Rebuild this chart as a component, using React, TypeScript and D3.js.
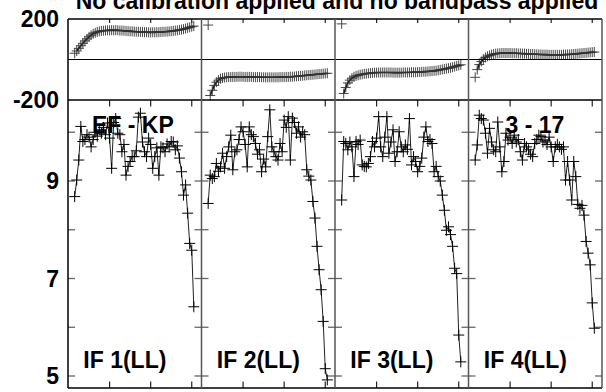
import React from 'react';
import * as d3 from 'd3';

const TITLE = 'No calibration applied and no bandpass applied';
const CHANNELS = [3,4,5,6,7,8,9,10,11,12,13,14,15,16,17,18,19,20,21,22,23,24,25,26,27,28,29,30,31,32,33,34,35,36,37,38,39,40,41,42,43,44,45,46,47,48,49,50,51,52,53,54,55,56,57,58,59,60,61];
const IF_LABELS = ['IF 1(LL)', 'IF 2(LL)', 'IF 3(LL)', 'IF 4(LL)'];
const BASELINE_LABELS = ['EF - KP', '', '', '3 - 17'];
const PHASE_TICK_LABELS = [200, -200];
const AMP_TICKS = [10, 9, 8, 7, 6, 5];
const AMP_TICK_LABELS = [9, 7, 5];
const CHAN_TICKS = [20, 40, 60];

const PHASE_1 = [31,42,55,68,80,92,102,112,120,127,132,136,139,141,142,143,144,144,145,144,145,144,143,143,142,141,140,139,139,138,137,137,136,136,135,135,134,134,135,134,135,135,136,137,137,138,139,140,141,143,144,146,148,150,153,156,159,162,165];
const PHASE_2 = [170,-178,-152,-128,-112,-102,-95,-91,-89,-88,-87,-87,-86,-86,-86,-85,-85,-86,-86,-86,-86,-86,-87,-87,-87,-87,-88,-88,-88,-88,-88,-88,-88,-88,-88,-87,-87,-87,-86,-86,-85,-85,-84,-83,-82,-81,-80,-79,-78,-77,-76,-75,-74,-73,-72,-71,-70,-69,-68];
const PHASE_3 = [176,-168,-138,-116,-102,-92,-86,-81,-78,-75,-73,-71,-70,-68,-67,-66,-65,-65,-64,-64,-64,-64,-64,-64,-64,-65,-65,-65,-65,-65,-64,-64,-64,-64,-63,-63,-63,-62,-62,-61,-60,-60,-59,-58,-57,-56,-55,-53,-51,-49,-47,-45,-43,-41,-38,-35,-32,-29,-26];
const PHASE_4 = [-88,-50,-25,-10,2,10,16,20,24,27,29,30,31,32,32,32,32,32,31,31,31,30,30,29,29,28,28,27,27,26,26,25,25,24,24,24,23,23,23,23,23,23,23,24,24,25,25,26,27,28,29,30,31,32,33,34,35,36,37];

const AMP_1 = [8.68,9.02,9.43,10.12,9.81,9.85,9.95,9.9,9.7,9.85,10.0,9.92,10.05,9.98,10.1,9.95,10.19,9.88,9.26,10.2,10.28,9.98,9.95,9.6,9.75,9.12,9.3,9.4,9.5,9.5,9.62,10.31,10.39,9.8,9.6,9.5,9.88,9.75,9.26,9.5,9.68,9.12,9.7,9.68,9.6,9.76,9.7,9.81,9.8,9.64,9.72,9.47,9.19,8.71,8.92,8.34,7.72,7.58,6.42];
const AMP_2 = [8.54,9.12,9.05,9.09,9.36,9.2,9.29,9.57,9.26,9.5,9.7,9.94,9.23,9.6,9.64,9.85,10.11,10.01,9.75,9.29,10.11,9.95,9.91,9.77,9.55,9.64,9.19,9.45,9.29,9.91,10.46,9.7,9.6,9.5,9.43,9.77,9.6,10.25,10.1,10.32,9.43,10.29,10.2,9.98,10.11,9.9,10.01,9.95,9.23,9.1,9.02,8.58,8.24,7.66,7.18,6.77,6.12,5.15,4.92];
const AMP_3 = [8.61,9.81,9.77,9.64,9.8,9.7,9.09,9.81,9.75,9.84,9.33,9.3,9.29,9.36,9.5,9.81,9.7,9.88,10.32,9.7,9.5,9.9,10.32,9.57,9.8,10.05,9.4,9.6,10.01,9.7,9.6,9.74,9.65,10.28,9.33,9.5,9.4,9.19,9.3,9.47,9.9,10.11,9.81,9.85,9.77,9.19,9.3,9.09,9.0,8.71,8.4,7.99,8.06,7.9,7.66,7.21,7.1,5.84,5.29];
const AMP_4 = [9.43,9.74,10.35,10.28,10.25,9.98,9.57,10.08,9.8,9.64,9.6,10.21,9.7,9.19,9.4,9.98,9.84,9.9,9.77,9.94,9.8,9.85,9.6,9.43,9.77,9.7,9.64,9.55,9.5,9.77,9.85,9.94,9.91,9.8,9.84,9.75,9.9,9.7,9.4,9.7,9.75,9.7,9.65,9.7,9.02,9.4,9.02,8.61,9.4,9.09,8.52,8.44,8.5,8.3,7.76,7.52,7.28,6.5,5.98];

const PHASES = [PHASE_1, PHASE_2, PHASE_3, PHASE_4];
const AMPS = [AMP_1, AMP_2, AMP_3, AMP_4];

const W = 606, H = 392;
const LEFT = 68, PW = 133.5;
const PH_TOP = 19, PH_BOT = 100, AMP_BOT = 388;
const FONT = 'Liberation Sans, Arial, Helvetica, sans-serif';
const FS = 23;

export default function App() {
  const yPh = d3.scaleLinear().domain([-200, 200]).range([PH_BOT, PH_TOP]);
  const yAmp = d3.scaleLinear().domain([5, 9]).range([376, 181]);
  const panels = d3.range(4).map(i => {
    const x0 = LEFT + i * PW;
    const x = d3.scaleLinear().domain([-0.25, 64.75]).range([x0, x0 + PW]);
    return { x0, x };
  });
  const right = LEFT + 4 * PW;
  const crossPath = (pts: [number, number][], r: number) =>
    pts.map(([px, py]) => `M${px - r},${py}H${px + r}M${px},${py - r}V${py + r}`).join('');

  return (
    <svg width={W} height={H} style={{ position: 'absolute', left: 0, top: 0, background: '#fff' }}
      fontFamily={FONT} fontWeight="bold" fontSize={FS}>
      <rect x={0} y={0} width={W} height={H} fill="#fff" />
      <text x={(LEFT + right) / 2 + 2} y={9} textAnchor="middle">{TITLE}</text>
      {PHASE_TICK_LABELS.map(v => (
        <text key={'p' + v} x={59} y={yPh(v) + 8.3} textAnchor="end">{v}</text>
      ))}
      {AMP_TICK_LABELS.map(v => (
        <text key={'a' + v} x={59} y={yAmp(v) + 8.3} textAnchor="end">{v}</text>
      ))}
      {panels.map((p, i) => (
        <g key={i}>
          {AMP_TICKS.map(v => (
            <g key={v} stroke="#666" strokeWidth={1.3}>
              <line x1={p.x0} x2={p.x0 + 7} y1={yAmp(v)} y2={yAmp(v)} />
              <line x1={p.x0 + PW - 7} x2={p.x0 + PW} y1={yAmp(v)} y2={yAmp(v)} />
            </g>
          ))}
          {CHAN_TICKS.map(c => (
            <g key={c} stroke="#222" strokeWidth={1.2}>
              <line x1={p.x(c)} x2={p.x(c)} y1={PH_TOP} y2={PH_TOP + 4} />
              <line x1={p.x(c)} x2={p.x(c)} y1={PH_BOT} y2={PH_BOT + 6.5} />
              <line x1={p.x(c)} x2={p.x(c)} y1={AMP_BOT} y2={AMP_BOT - 6.5} />
            </g>
          ))}
          {BASELINE_LABELS[i] && (
            <text x={i === 0 ? p.x0 + 24 : p.x0 + 37} y={133.3}>{BASELINE_LABELS[i]}</text>
          )}
          <text x={p.x0 + 15.3} y={367.5}>{IF_LABELS[i]}</text>
          <path
            d={d3.line<number>().x((_, k) => p.x(CHANNELS[k + 1])).y(v => yPh(v))(PHASES[i].slice(1)) || ''}
            fill="none" stroke="#111" strokeWidth={1.6} />
          <path
            d={crossPath(PHASES[i].map((v, k) => [p.x(CHANNELS[k]), yPh(v)] as [number, number]), 5)}
            fill="none" stroke="#333" strokeWidth={0.9} />
          <path
            d={d3.line<number>().x((_, k) => p.x(CHANNELS[k])).y(v => yAmp(v))(AMPS[i]) || ''}
            fill="none" stroke="#222" strokeWidth={1} />
          <path
            d={crossPath(AMPS[i].map((v, k) => [p.x(CHANNELS[k]), yAmp(v)] as [number, number]), 5.5)}
            fill="none" stroke="#000" strokeWidth={1} />
        </g>
      ))}
      <g fill="none">
        <line x1={LEFT} x2={right} y1={PH_TOP} y2={PH_TOP} stroke="#000" strokeWidth={1.5} />
        <line x1={LEFT} x2={right} y1={yPh(0)} y2={yPh(0)} stroke="#000" strokeWidth={1.2} />
        <line x1={LEFT} x2={right} y1={PH_BOT} y2={PH_BOT} stroke="#000" strokeWidth={1.5} />
        <line x1={LEFT} x2={right} y1={AMP_BOT} y2={AMP_BOT} stroke="#000" strokeWidth={1.5} />
        {panels.map((p, i) => (
          <line key={i} x1={p.x0} x2={p.x0} y1={PH_TOP} y2={AMP_BOT}
            stroke={i === 0 ? '#000' : '#555'} strokeWidth={1.5} />
        ))}
        <line x1={right} x2={right} y1={PH_TOP} y2={AMP_BOT} stroke="#555" strokeWidth={1.5} />
      </g>
    </svg>
  );
}
